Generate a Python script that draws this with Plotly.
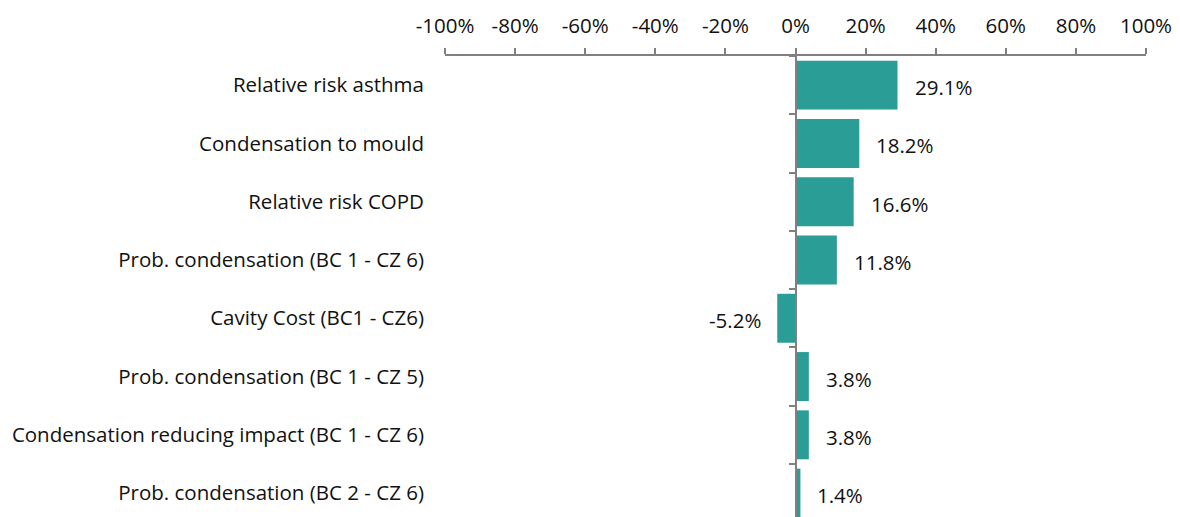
import plotly.graph_objects as go

categories = [
    "Relative risk asthma",
    "Condensation to mould",
    "Relative risk COPD",
    "Prob. condensation (BC 1 - CZ 6)",
    "Cavity Cost (BC1 - CZ6)",
    "Prob. condensation (BC 1 - CZ 5)",
    "Condensation reducing impact (BC 1 - CZ 6)",
    "Prob. condensation (BC 2 - CZ 6)",
]
values = [29.1, 18.2, 16.6, 11.8, -5.2, 3.8, 3.8, 1.4]
x_tickvals = [-100, -80, -60, -40, -20, 0, 20, 40, 60, 80, 100]
x_ticktext = ["-100%", "-80%", "-60%", "-40%", "-20%", "0%", "20%", "40%", "60%", "80%", "100%"]

BAR = "#299D96"
AXIS = "#808080"
FONT = "Open Sans"
TXT = "#111111"
FS = 20.5

fig = go.Figure()
fig.add_trace(go.Bar(
    x=values, y=categories, orientation="h",
    marker=dict(color=BAR, line=dict(width=0)),
    hoverinfo="skip", showlegend=False,
))
fig.add_trace(go.Scatter(
    x=[0] * len(categories), y=categories, yaxis="y2", mode="markers",
    marker=dict(opacity=0), hoverinfo="skip", showlegend=False,
))

for c, v in zip(categories, values):
    fig.add_annotation(
        x=v, y=c, xref="x", yref="y", text=f"{v:.1f}%", showarrow=False,
        xanchor="left" if v >= 0 else "right", xshift=15 if v >= 0 else -14,
        yshift=-2,
        font=dict(family=FONT, size=FS, color=TXT),
    )

# page body has an 8px default margin, so offsets are reduced by 8px
yrange = [7.41, -0.5]
fig.update_layout(
    width=1172, height=509,
    margin=dict(l=437, r=34, t=48, b=0, autoexpand=False),
    paper_bgcolor="white", plot_bgcolor="white",
    bargap=0.16,
    font=dict(family=FONT, size=FS, color=TXT),
    xaxis=dict(
        side="top", range=[-100, 100], tickvals=x_tickvals, ticktext=x_ticktext,
        showgrid=False, zeroline=False, showline=True, linecolor=AXIS, linewidth=2,
        ticks="outside", ticklen=6, tickwidth=2, tickcolor=AXIS,
        ticklabelstandoff=7,
        tickfont=dict(family=FONT, size=FS, color=TXT), automargin=False,
    ),
    yaxis=dict(
        type="category", categoryarray=categories, range=yrange, autorange=False,
        showgrid=False, zeroline=False, showline=False, ticks="",
        ticklabelstandoff=20, automargin=False,
        tickfont=dict(family=FONT, size=FS, color=TXT),
    ),
    yaxis2=dict(
        type="category", categoryarray=categories, range=yrange, autorange=False,
        overlaying="y", anchor="free", position=0.5, side="left",
        showgrid=False, zeroline=False, showline=True, linecolor=AXIS, linewidth=2,
        ticks="outside", tickson="boundaries", ticklen=6, tickwidth=2, tickcolor=AXIS,
        showticklabels=False, automargin=False,
    ),
)

fig.write_html("out.html")
